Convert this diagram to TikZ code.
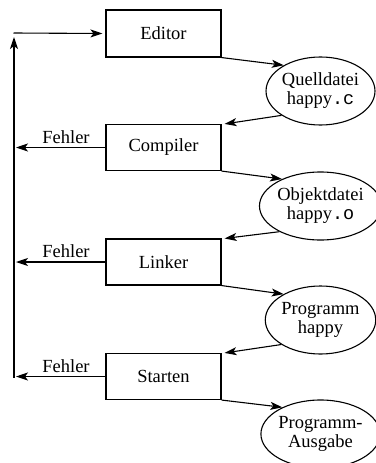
\documentclass[tikz,border=0pt]{standalone}
\usepackage{fontspec}
\setmainfont{Liberation Serif}
\setmonofont{Liberation Mono}
\usetikzlibrary{arrows.meta,shapes.geometric}
\begin{document}
\begin{tikzpicture}[x=1pt,y=-1pt,
  every node/.style={font=\fontsize{18.5}{19}\selectfont},
  stepbox/.style={draw,line width=1.1pt,rectangle,minimum width=115pt,minimum height=46pt,inner sep=0pt},
  filebox/.style={draw,line width=1.1pt,ellipse,minimum width=107pt,minimum height=68pt,inner sep=0pt,align=center},
  conn/.style={line width=1.1pt,-{Stealth[length=12pt,width=8pt,inset=3pt]}},
  errlab/.style={anchor=base,inner sep=0pt}]
\useasboundingbox (0,0) rectangle (375,463);
% process boxes
\node[stepbox,minimum height=47pt] (editor) at (163.5,33.5) {Editor};
\node[stepbox] (compiler) at (163.5,147.5) {Compiler};
\node[stepbox] (linker) at (163.5,262) {Linker};
\node[stepbox] (starten) at (163.5,376.5) {Starten};
% files
\node[filebox] (quelle) at (320.5,91) {Quelldatei\\happy{\ttfamily.c}};
\node[filebox] (objekt) at (320.5,206) {Objektdatei\\happy{\ttfamily.o}};
\node[filebox] (prog) at (320.5,320) {Programm\\happy};
\node[filebox] (ausgabe) at (320.5,434) {Programm-\\Ausgabe};
% flow arrows
\draw[conn] (editor.south east) -- (quelle.145);
\draw[conn] (quelle.212) -- ([xshift=3pt]compiler.north east);
\draw[conn] (compiler.south east) -- (objekt.145);
\draw[conn] (objekt.212) -- ([xshift=3pt]linker.north east);
\draw[conn] (linker.south east) -- (prog.145);
\draw[conn] (prog.212) -- ([xshift=3pt]starten.north east);
\draw[conn] (starten.south east) -- (ausgabe.145);
% error arrows
\coordinate (e1) at (16,147.5);
\coordinate (e2) at (16,262);
\coordinate (e3) at (16,376.5);
\draw[conn] (compiler.west) -- (e1);
\draw[conn] (linker.west) -- (e2);
\draw[conn] (starten.west) -- (e3);
\node[errlab] (l1) at (66,143) {Fehler};
\node[errlab] (l2) at (66,257.5) {Fehler};
\node[errlab] (l3) at (66,372) {Fehler};
% feedback
\coordinate (vb) at (14,377.5);
\coordinate (vt) at (14,37);
\coordinate (tl) at (13.5,33);
\draw[conn] (vb) -- (vt);
\draw[conn] (tl) -- ([xshift=-3pt]editor.west);
\end{tikzpicture}
\end{document}
